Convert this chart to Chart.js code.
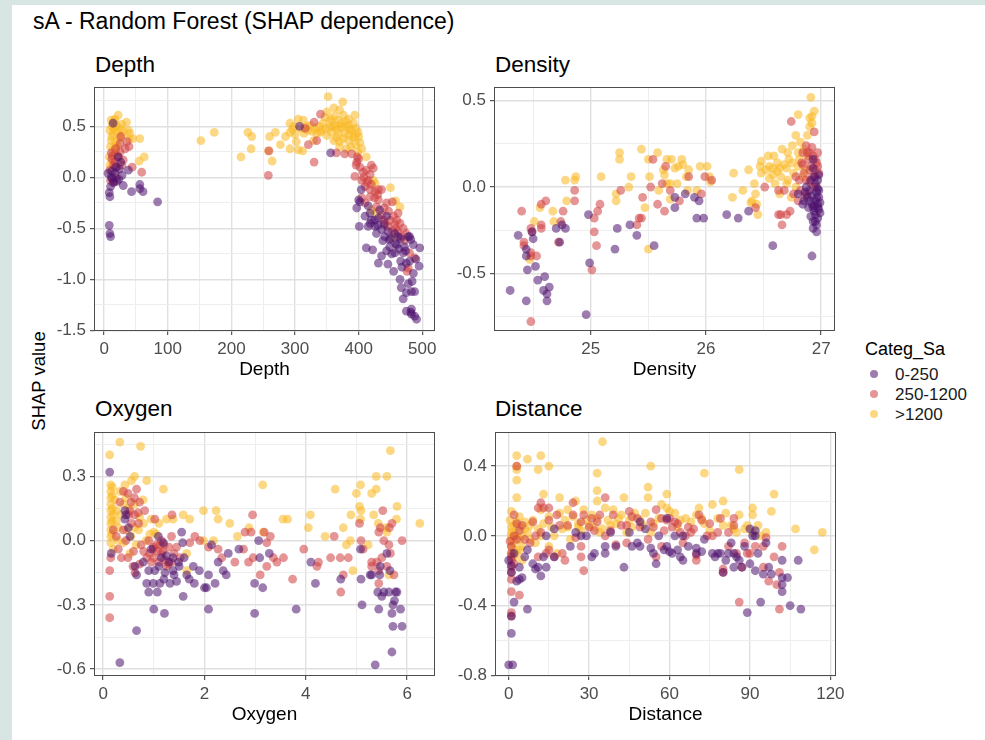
<!DOCTYPE html>
<html lang="en">
<head>
<meta charset="UTF-8">
<title>sA - Random Forest (SHAP dependence)</title>
<script src="https://cdn.jsdelivr.net/npm/chart.js@4"></script>
<style>
  body { margin: 0; background: #d7e6e2; font-family: "Liberation Sans", Arial, sans-serif; }
  #page { position: absolute; left: 12px; top: 5px; width: 973px; height: 735px; background: #fff; }
  .txt { position: absolute; white-space: nowrap; line-height: 1; color: #000; }
  canvas { position: absolute; }
  .key { position: absolute; width: 8px; height: 8px; border-radius: 50%; }
</style>
</head>
<body>
<div id="page"></div>
<div class="txt" style="left:33px; top:10px; font-size:23px;">sA - Random Forest (SHAP dependence)</div>
<div class="txt" style="left:95px; top:54px; font-size:22.5px;">Depth</div>
<div class="txt" style="left:495px; top:54px; font-size:22.5px;">Density</div>
<div class="txt" style="left:95px; top:398px; font-size:22.5px;">Oxygen</div>
<div class="txt" style="left:495px; top:398px; font-size:22.5px;">Distance</div>
<div class="txt" style="left:39px; top:381px; font-size:18.5px; transform: translate(-50%,-50%) rotate(-90deg);">SHAP value</div>
<div id="legend"></div>

<canvas id="c1" width="416" height="302" style="left:40px; top:81px;"></canvas>
<canvas id="c2" width="416" height="302" style="left:440px; top:81px;"></canvas>
<canvas id="c3" width="416" height="302" style="left:40px; top:426px;"></canvas>
<canvas id="c4" width="416" height="302" style="left:441px; top:426px;"></canvas>

<script>
// categories (Categ_Sa)
const categories = ['0-250', '250-1200', '>1200'];
const catColors = ['rgba(76,16,110,0.55)', 'rgba(208,62,64,0.55)', 'rgba(249,184,32,0.55)'];

// ---- Depth: [depth, SHAP]
const depthLow = [[14,0.53],[22,0.2],[26,0.15],[12,0.06],[17,0.04],[38,0.07],[23,-0.02],[30,-0.08],[10,-0.09],[8,-0.15],[9,-0.19],[56,-0.07],[56,-0.11],[61,-0.14],[43,-0.14],[84,-0.24],[8,-0.47],[9,-0.55],[10,-0.58],[13,-0.01],[6,0.04],
  [18,0.1],[24,0.08],[15,-0.05],[20,-0.04],[11,0.0],[28,0.02],
  [307,0.5],[356,0.24],
  [397,-0.3],[401,-0.48],[402,-0.24],[418,-0.35],[418,-0.45],[426,-0.48],[415,-0.48],[431,-0.4],[436,-0.51],[412,-0.69],[422,-0.71],[431,-0.84],[436,-0.77],[444,-0.72],[446,-0.85],[455,-0.92],[449,-0.68],[457,-0.74],[460,-0.66],[470,-0.74],[472,-0.68],[480,-0.58],[482,-0.61],[486,-0.66],[496,-0.69],[495,-0.87],[486,-0.94],[475,-0.84],[466,-0.82],[465,-1.0],[467,-1.08],[470,-1.19],[475,-1.13],[478,-1.04],[484,-1.02],[483,-1.12],[488,-1.12],[475,-1.31],[483,-1.29],[482,-1.32],[483,-1.34],[488,-1.36],[491,-1.39],[441,-0.58],[446,-0.53],[457,-0.55],[478,-0.58],[433,-0.32],[444,-0.38],[462,-0.58],[400,-0.22],[404,-0.12],[420,-0.42],[428,-0.55],[438,-0.62],[450,-0.6],[452,-0.75],[463,-0.7],
  [410,-0.38],[415,-0.28],[425,-0.42],[430,-0.47],[440,-0.46],[448,-0.61],[458,-0.65],[466,-0.6],[474,-0.72],[490,-0.8],[480,-0.82],[468,-0.88]];
const depthMid = [[25,0.33],[36,0.35],[39,0.30],[30,0.17],[25,0.25],[17,0.15],[9,0.07],[10,-0.03],[44,0.10],[59,0.05],[26,0.4],[22,0.2],[15,0.12],[13,0.21],
  [18,0.28],[20,0.1],[12,0.18],[28,0.12],[33,0.28],[14,-0.05],[18,0.0],[11,0.24],
  [259,0.26],[258,0.02],[316,0.48],[321,0.32],[330,0.54],[330,0.15],[334,0.36],[340,0.62],
  [365,0.24],[378,0.23],[389,0.23],[397,0.15],[402,0.1],[394,0.01],[412,0.07],[418,0.03],[405,-0.03],[410,-0.09],[418,-0.12],[426,-0.14],[431,-0.12],[436,-0.12],[418,-0.19],[405,-0.2],[410,-0.25],[431,-0.22],[444,-0.25],[453,-0.24],[462,-0.35],[449,-0.42],[457,-0.46],[465,-0.45],[446,-0.48],[462,-0.53],[467,-0.58],[480,-0.74],[488,-0.79],[478,-0.89],[476,-0.92],[436,-0.37],[428,-0.29],[423,0.09],[415,-0.03],[439,-0.42],[453,-0.53],[398,0.2],[400,0.18],[396,0.12],
  [408,0.0],[413,-0.05],[420,-0.07],[425,-0.2],[430,-0.17],[440,-0.3],[447,-0.33],[455,-0.38],[460,-0.42],[470,-0.5],[472,-0.62],[475,-0.55],[458,-0.5],[442,-0.45],[420,0.12],[407,0.05]];
const depthHigh = [[22,0.61],[11,0.56],[17,0.57],[9,0.46],[25,0.48],[35,0.54],[38,0.46],[40,0.43],[39,0.38],[45,0.38],[56,0.38],[55,0.16],[63,0.2],[11,0.36],[17,0.30],[8,0.2],[13,0.14],[19,0.51],[14,0.43],[27,0.41],[17,0.25],[10,0.3],[21,0.31],
  [12,0.5],[16,0.48],[20,0.45],[24,0.38],[18,0.35],[12,0.4],[14,0.27],[20,0.22],[9,0.12],[15,0.55],[28,0.52],[30,0.45],
  [152,0.36],[173,0.44],[215,0.2],[226,0.44],[232,0.4],[231,0.28],[260,0.4],[269,0.44],[258,0.26],[264,0.16],[277,0.32],[292,0.53],[292,0.44],[292,0.28],[302,0.35],[305,0.57],[313,0.56],[309,0.48],[314,0.43],[305,0.27],[312,0.26],[324,0.51],[327,0.45],[334,0.43],[342,0.46],[329,0.36],[347,0.59],
  [298,0.5],[296,0.47],[285,0.4],[300,0.42],[320,0.46],[318,0.5],[332,0.48],[338,0.5],
  [352,0.79],[375,0.74],[361,0.68],[350,0.64],[370,0.66],[394,0.61],[376,0.61],[357,0.57],[368,0.56],[384,0.57],[344,0.53],[355,0.49],[364,0.51],[373,0.49],[384,0.51],[392,0.53],[399,0.44],[389,0.46],[378,0.43],[368,0.43],[357,0.44],[350,0.41],[361,0.36],[370,0.35],[384,0.36],[394,0.40],[402,0.34],[405,0.28],[399,0.25],[412,0.2],[381,0.28],[370,0.30],
  [360,0.5],[366,0.47],[372,0.53],[378,0.5],[386,0.47],[380,0.55],[362,0.6],[355,0.55],[348,0.48],[340,0.44],[385,0.42],[391,0.39],[396,0.48],[376,0.38],[365,0.39],[388,0.3],[395,0.32],[400,0.4],
  [423,-0.03],[426,-0.06],[450,-0.1],[458,-0.23],[465,-0.29],[455,-0.59],[420,-0.32],[428,-0.35]];

// ---- Density: [density, SHAP]
const densityLow = [[26.92,-0.40],[26.96,-0.26],[26.93,-0.24],[26.96,-0.22],[26.97,-0.18],[26.95,-0.16],[26.98,-0.13],[26.97,-0.10],[26.98,-0.06],[26.96,-0.03],[26.90,-0.02],[26.87,0],[26.84,-0.10],[26.90,-0.08],[26.98,-0.02],[26.93,0.11],[26.93,0.16],[26.91,-0.17],[26.93,-0.20],[26.89,-0.12],[26.95,-0.08],[26.97,-0.12],[26.94,-0.14],[26.99,-0.09],[26.92,-0.05],[26.86,-0.03],[26.80,-0.04],[26.95,0.02],[26.97,0.04],[26.94,-0.11],
  [26.96,-0.06],[26.92,-0.10],[26.99,-0.15],[26.95,-0.20],[26.93,-0.12],[26.88,-0.06],[26.85,-0.08],[26.97,-0.01],[26.98,0.07],[26.91,0.04],[26.94,0.06],
  [26.58,-0.34],[26.37,-0.14],[26.28,-0.18],[26.18,-0.16],[25.98,-0.18],[25.92,-0.18],[25.94,-0.08],[25.90,-0.06],[25.82,-0.04],[25.73,-0.12],[25.73,-0.06],[25.55,-0.34],[25.40,-0.28],[25.34,-0.22],[25.23,-0.24],[25.21,-0.36],[24.99,-0.44],[24.98,-0.16],[24.96,-0.74],[24.78,-0.24],[24.75,-0.22],[24.70,-0.24],[24.73,-0.32],[24.64,-0.58],[24.62,-0.66],[24.62,-0.62],[24.59,-0.60],[24.60,-0.52],[24.54,-0.54],[24.52,-0.46],[24.45,-0.48],[24.44,-0.66],[24.44,-0.40],[24.44,-0.36],[24.50,-0.30],[24.49,-0.26],[24.37,-0.28],[24.30,-0.60]];
const densityMid = [[26.74,0.38],[26.94,0.32],[26.87,0.24],[26.92,0.23],[26.97,0.20],[26.84,0.20],[26.95,0.16],[26.89,0.16],[26.84,0.13],[26.97,0.12],[26.90,0.10],[26.85,0.08],[26.95,0.06],[26.81,0.04],[26.90,0.03],[26.96,0],[26.82,-0.02],[26.76,-0.04],[26.86,-0.05],[26.51,0],[26.63,-0.02],[26.43,-0.12],[26.63,-0.16],[26.65,-0.16],[26.66,-0.22],[26.70,-0.16],[26.73,-0.14],[26.68,-0.02],
  [26.88,0.20],[26.93,0.18],[26.98,0.08],[26.92,0.06],[26.87,0.04],[26.93,0.0],[26.88,-0.04],[26.95,0.10],[26.83,0.14],[26.91,0.12],[26.78,0.06],[26.80,-0.08],[26.90,0.20],[26.96,0.14],
  [25.99,0.06],[26.05,0.04],[25.96,-0.04],[25.85,0.06],[25.77,-0.08],[25.69,-0.02],[25.65,0.12],[25.62,0.02],[25.64,-0.14],[25.58,-0.10],[25.54,0.16],[25.52,0],[25.45,-0.06],[25.42,-0.18],[25.44,-0.18],[25.40,-0.22],[25.26,-0.02],[25.08,-0.10],[25.06,-0.14],[25.03,-0.18],[25.03,-0.26],[25.05,-0.34],[25.01,-0.48],[24.86,-0.02],[24.86,-0.08],[24.76,-0.14],[24.74,-0.2],[24.72,-0.32],[24.61,-0.08],[24.57,-0.10],[24.57,-0.22],[24.57,-0.24],[24.48,-0.24],[24.49,-0.26],[24.42,-0.32],[24.42,-0.34],[24.48,-0.38],[24.53,-0.40],[24.40,-0.14],[24.48,-0.78],[24.48,-0.40]];
const densityHigh = [[26.91,0.52],[26.80,0.42],[26.94,0.44],[26.92,0.41],[26.90,0.40],[26.92,0.37],[26.78,0.30],[26.82,0.26],[26.75,0.24],[26.66,0.22],[26.71,0.20],[26.54,0.18],[26.59,0.18],[26.48,0.15],[26.47,0.12],[26.48,0.08],[26.52,0.10],[26.58,0.11],[26.64,0.11],[26.70,0.11],[26.75,0.14],[26.81,0.16],[26.58,0.07],[26.65,0.06],[26.71,0.04],[26.76,0.08],[26.64,-0.04],[26.74,-0.06],[26.42,0.02],[26.43,-0.04],[26.40,-0.08],[26.44,-0.10],[26.45,-0.16],[26.39,-0.09],[26.37,0.10],[26.32,-0.02],[26.24,0.08],[26.23,-0.06],
  [26.85,0.22],[26.88,0.18],[26.80,0.12],[26.86,0.10],[26.72,0.16],[26.68,0.13],[26.62,0.09],[26.55,0.05],[26.60,0.02],[26.70,0.02],[26.78,0.0],[26.80,0.20],[26.88,0.30],[26.90,0.35],[26.84,0.06],[26.62,0.14],[26.55,0.12],
  [26.01,0.12],[25.95,0.12],[26.03,0.06],[26.04,0.03],[25.92,-0.02],[25.84,-0.02],[25.85,0.10],[25.83,0.06],[25.80,0.13],[25.79,0.16],[25.76,0.12],[25.73,0.11],[25.70,0.16],[25.66,0.16],[25.63,0.10],[25.64,0.07],[25.66,0.02],[25.69,0.02],[25.69,-0.07],[25.75,0.02],[25.58,0.20],[25.50,0.16],[25.51,0.06],[25.44,0.22],[25.47,-0.12],[25.50,-0.36],[25.59,-0.02],[25.35,0.06],[25.33,0],[25.25,0.20],[25.25,0.16],[25.22,-0.04],[25.22,-0.08],[25.09,0.06],[24.87,0.06],[24.86,0.04],[24.78,0.04],[24.79,-0.08],[24.67,-0.14],[24.68,-0.20],[24.56,-0.12],[24.51,-0.20],[24.47,-0.42]];

// ---- Oxygen: [oxygen, SHAP]
const oxygenLow = [[0.13,0.32],[0.33,-0.57],[0.66,-0.42],[0.16,-0.06],[0.43,0.14],[0.43,0.10],[0.53,0.02],[0.63,-0.12],[0.66,-0.16],[0.79,-0.10],[0.86,-0.20],[0.90,-0.24],[0.99,-0.20],[1.0,-0.32],[1.07,-0.24],[1.09,0.02],[1.12,-0.20],[1.02,-0.14],[1.19,-0.01],[1.21,-0.34],[1.22,-0.15],[1.25,-0.07],[1.32,-0.20],[1.38,-0.08],[1.38,-0.14],[1.45,-0.19],[1.49,-0.10],[1.55,0.04],[1.57,-0.01],[1.58,-0.26],[1.60,-0.08],[1.65,-0.16],[1.78,-0.12],[1.80,-0.20],[1.90,-0.14],[2.0,-0.22],[2.04,-0.22],[2.08,-0.16],[2.08,-0.32],[2.14,-0.02],[2.21,-0.20],[2.27,-0.10],[2.37,-0.14],[2.43,-0.16],[2.47,-0.06],[2.68,-0.04],[2.99,-0.20],[2.99,-0.34],[3.07,0],[3.09,-0.08],[3.15,-0.22],[3.28,-0.06],[3.81,-0.32],[4.10,-0.10],[4.19,-0.20],[4.69,-0.18],
  [0.50,0.06],[0.45,0.12],[0.90,-0.14],[1.10,-0.12],[1.20,-0.18],[1.40,-0.16],[1.50,-0.12],[1.70,-0.18],[0.95,-0.04],[1.15,-0.08],[1.30,-0.10],
  [5.08,-0.04],[5.09,-0.18],[5.11,-0.30],[5.27,-0.16],[5.30,-0.16],[5.37,-0.58],[5.42,-0.24],[5.46,-0.16],[5.47,-0.12],[5.44,-0.32],[5.50,-0.26],[5.54,-0.24],[5.64,-0.24],[5.66,-0.14],[5.60,-0.06],[5.70,-0.34],[5.72,-0.30],[5.75,-0.28],[5.72,-0.40],[5.70,-0.52],[5.77,-0.24],[5.80,-0.24],[5.87,-0.32],[5.90,-0.40]];
const oxygenMid = [[0.13,-0.26],[0.13,-0.36],[0.13,-0.14],[0.15,-0.08],[0.33,0.18],[0.40,0.23],[0.49,0.22],[0.66,0.24],[0.62,0.20],[0.72,0.18],[0.69,0.13],[0.82,0.14],[0.53,0.14],[0.56,0.08],[0.40,0.05],[0.36,-0.08],[0.49,-0.08],[0.63,-0.15],[0.59,-0.12],[0.72,-0.11],[0.92,-0.06],[0.99,-0.04],[1.02,0.10],[1.12,-0.02],[1.15,-0.06],[1.22,-0.09],[1.29,-0.11],[1.35,0.02],[1.36,0.12],[1.45,-0.03],[1.52,-0.08],[1.71,-0.01],[1.81,0.02],[1.91,0],[2.08,-0.03],[2.27,-0.04],[2.34,-0.08],[2.60,-0.10],[2.77,-0.04],[2.80,0.04],[2.92,0.04],[2.95,0.12],[2.87,-0.10],[2.96,-0.08],[3.10,-0.16],[3.18,0.04],[3.30,0.02],[3.23,-0.01],[3.23,-0.12],[3.36,-0.08],[3.43,-0.10],[3.56,-0.08],[3.74,-0.18],[3.96,-0.04],[4.22,-0.12],[4.25,-0.10],[4.49,-0.08],[4.56,0.02],[4.69,-0.24],[4.74,-0.16],[4.68,-0.08],[4.84,-0.08],
  [0.50,0.12],[0.55,0.18],[0.70,0.08],[0.75,-0.02],[0.80,-0.05],[0.90,0.0],[1.00,-0.08],[1.05,-0.02],[1.10,-0.10],[1.18,-0.05],[1.20,-0.02],[0.95,-0.10],[0.60,-0.05],[0.45,0.0],[0.30,-0.04],[0.20,0.05],[0.62,0.12],[1.40,-0.06],[1.30,-0.03],
  [5.06,0.08],[5.09,0],[5.13,-0.04],[5.30,-0.12],[5.30,-0.10],[5.40,-0.10],[5.44,-0.14],[5.44,-0.20],[5.52,0.14],[5.44,0.04],[5.47,0.06],[5.54,0],[5.64,-0.02],[5.67,-0.06],[5.70,0.08],[5.65,0.06],[5.60,-0.12],[5.74,-0.16],[5.90,0],[5.50,-0.08],[0.86,-0.08],[0.99,-0.03],[1.07,-0.05],[1.15,0],[1.25,-0.12],[1.35,-0.10],[0.26,0.02]];
const oxygenHigh = [[0.33,0.46],[0.13,0.40],[0.74,0.44],[5.67,0.42],[0.15,0.26],[0.15,0.23],[0.15,0.20],[0.15,0.17],[0.15,0.14],[0.15,0.11],[0.15,0.08],[0.15,0.05],[0.15,0.02],[0.15,-0.01],[0.23,0.19],[0.26,0.14],[0.33,0.23],[0.43,0.26],[0.62,0.30],[0.56,0.28],[0.86,0.28],[0.79,0.19],[0.72,0.11],[0.62,0.06],[0.46,0.05],[0.26,0.09],[0.40,-0.01],[0.92,0.03],[1.19,0.24],[1.25,0.10],[1.38,0.10],[1.58,0.12],[1.71,0.10],[1.98,0.14],[2.23,0.14],[2.27,0.10],[2.50,0.08],[2.18,0],[1.98,0],[2.65,0.02],[2.88,0.06],[3.15,0.26],[3.16,0.04],[3.55,0.10],[3.64,0.10],[4.05,0.06],[4.09,0.12],[4.38,0.02],[4.58,0.24],[4.74,0.06],[4.88,0],[4.80,-0.02],[4.89,0.12],[4.93,-0.14],
  [0.18,0.25],[0.18,0.21],[0.18,0.15],[0.18,0.09],[0.18,0.03],[0.20,0.12],[0.30,0.06],[0.35,0.12],[0.50,0.15],[0.45,0.20],[0.70,0.05],[0.80,0.08],[0.95,0.10],[0.30,0.0],[0.20,-0.04],[0.55,0.02],[0.85,0.0],[1.00,0.04],[1.10,0.08],[0.65,-0.02],[0.40,0.17],
  [5.0,0.22],[5.08,0.26],[5.06,0.16],[5.08,0.10],[5.09,0.14],[5.30,0.22],[5.39,0.24],[5.39,0.30],[5.34,0.12],[5.23,-0.02],[5.60,0.30],[5.43,0.08],[5.58,0.06],[5.60,0.04],[5.80,0.16],[5.79,0.10],[6.25,0.08],[5.64,-0.16],[1.65,-0.06],[1.65,-0.14],[0.53,-0.06],[0.62,0.17],[1.05,0.03]];

// ---- Distance: [distance, SHAP]
const distanceLow = [[0,-0.74],[1.5,-0.74],[1,-0.56],[1,-0.46],[2,-0.38],[7,-0.42],[1,-0.21],[4,-0.25],[5,-0.24],[3,-0.26],[7,-0.08],[6,-0.12],[4,-0.18],[10,-0.19],[11,-0.18],[12,-0.23],[13,-0.12],[14,-0.18],[14,0],[17,0.04],[17,-0.12],[23,-0.06],[27,0],[29,0],[31,-0.12],[32,-0.10],[36,-0.06],[36,-0.10],[40,-0.06],[43,-0.18],[45,0.02],[46,-0.06],[48,-0.04],[49,-0.06],[49,0.08],[51,0.04],[53,-0.07],[54,-0.10],[55,-0.16],[59,0.10],[59,-0.06],[60,-0.09],[61,-0.10],[63,-0.08],[62,0],[65,0],[65,-0.14],[67,-0.06],[70,-0.07],[70,-0.10],[73,-0.02],[76,-0.10],[78,-0.10],[79,-0.10],[80,-0.21],[81,-0.14],[83,-0.04],[84,-0.18],[84,-0.10],[85,-0.12],[87,-0.18],[89,-0.44],[90,0.04],[91,0],[92,0.03],[92,0],[90,-0.16],[92,-0.20],[93,-0.10],[94,-0.38],[95,-0.22],[96,-0.04],[97,-0.18],[98,-0.22],[102,-0.14],[102,-0.28],[102,-0.32],[104,-0.24],[105,-0.40],[108,-0.14],[109,-0.42],[102,-0.24],
  [0,-0.14],[1,-0.17],[2,-0.10],[9,-0.16],[25,0.02],[38,0.02],[56,0.0],[58,-0.08],[64,-0.12],[72,-0.09],[77,-0.12],[82,-0.10],[86,-0.14],[88,-0.06]];
const distanceMid = [[3,0.40],[0.5,-0.03],[1,-0.06],[1,-0.10],[1,-0.14],[1,-0.18],[1,-0.21],[1,-0.32],[1,-0.44],[1,-0.46],[4,-0.34],[2,0.12],[4,0.03],[2,0],[6,-0.02],[9,0.08],[11,0.16],[12,0.19],[13,0.16],[12,0.02],[15,0.09],[15,0.16],[11,-0.12],[14,-0.10],[15,-0.08],[17,-0.12],[18,0.12],[20,-0.10],[21,-0.14],[24,0.12],[24,0.19],[25,-0.01],[27,0.08],[27,-0.06],[27,-0.12],[28,-0.20],[28,0.12],[31,0.10],[32,0.03],[34,0.12],[36,0.22],[36,0],[39,0.12],[40,-0.05],[42,0.06],[44,-0.04],[45,0.14],[46,0.11],[49,0.05],[52,-0.02],[54,0.05],[55,0.15],[55,-0.12],[57,0.10],[59,0.09],[60,0.10],[61,0.05],[63,0.07],[64,0.02],[65,-0.04],[67,0.05],[68,0.02],[70,-0.11],[70,-0.14],[71,0.12],[72,0.09],[74,0],[76,0],[78,0.02],[79,0.10],[80,-0.19],[80,-0.21],[82,-0.06],[84,0.10],[84,0.06],[85,-0.10],[86,-0.38],[87,-0.18],[89,-0.10],[92,-0.06],[95,-0.18],[96,-0.01],[97,-0.26],[99,-0.12],[100,-0.28],[101,-0.42],[101,-0.21],[102,-0.06],[95,-0.06],[57,-0.06],
  [1,-0.12],[2,-0.16],[1,-0.25],[3,-0.02],[5,0.06],[3,0.07],[8,-0.04],[10,0.0],[19,0.06],[22,0.06],[30,0.05],[33,0.08],[38,0.03],[44,0.06],[48,0.10],[53,0.08],[58,0.03],[62,0.08],[66,0.0],[69,0.04],[75,0.07],[82,0.02],[88,-0.04],[90,-0.10]];
const distanceHigh = [[35,0.54],[3,0.46],[12,0.46],[7,0.44],[3,0.40],[3,0.38],[3,0.32],[15,0.40],[11,0.38],[53,0.40],[86,0.38],[73,0.36],[33,0.36],[52,0.28],[52,0.22],[33,0.26],[99,0.24],[13,0.24],[3,0.22],[19,0.22],[25,0.20],[43,0.22],[59,0.24],[80,0.20],[33,0.20],[76,0.18],[1,0.14],[91,0.16],[98,0.14],[91,0.12],[107,0.04],[117,0.02],[114,-0.08],
  [0.5,0.09],[1,0.05],[1,0.02],[1,-0.02],[1,-0.06],[1,-0.10],[2,-0.12],[4,-0.08],[4,-0.02],[2,0.02],[5,-0.06],[7,0.02],[10,-0.04],[12,0],[15,0.11],[17,0],[18,-0.10],[19,0.13],[21,0.09],[22,0.05],[23,-0.02],[24,0.11],[26,0.07],[27,0.03],[28,0.15],[29,0.09],[31,0.12],[32,0.05],[34,0.02],[36,0.16],[37,0.09],[39,0.15],[40,0.07],[42,0.12],[44,0.02],[45,0.09],[47,0.13],[49,0.09],[51,0.13],[53,0.02],[54,0.07],[57,0.18],[59,0.16],[62,0.13],[64,0.09],[66,0.10],[70,0.12],[71,0.16],[73,0.07],[75,0.03],[78,0.10],[81,0.13],[83,0.06],[85,0.02],[86,0.12],[88,0.04],[91,0.02],[93,0.06],[94,0],[96,0.02],[4,0.11],[6,0.08],[9,0.09],[8,-0.02],[5,-0.14],[12,0.15],[15,-0.06],[22,0.15],
  [1,0.0],[2,-0.04],[3,0.0],[2,0.06],[3,-0.10],[5,0.0],[6,0.04],[8,0.06],[3,0.08],[2,-0.08],[4,0.05],[11,0.04],[13,0.07],[16,0.05],[20,0.04],[26,0.05],[30,0.06],[33,0.10],[35,0.04],[38,0.06],[41,0.10],[46,0.05],[50,0.06],[56,0.10],[60,0.14],[63,0.05],[68,0.08],[72,0.10],[80,0.06],[84,0.04],[89,0.06]];

// ---- ticks (major with labels, minor = grid only)
const depthXTicks = [0, 100, 200, 300, 400, 500];
const depthXLabels = ['0', '100', '200', '300', '400', '500'];
const depthXMinor = [50, 150, 250, 350, 450];
const depthYTicks = [-1.5, -1.0, -0.5, 0.0, 0.5];
const depthYLabels = ['-1.5', '-1.0', '-0.5', '0.0', '0.5'];
const depthYMinor = [-1.25, -0.75, -0.25, 0.25, 0.75];

const densityXTicks = [25, 26, 27];
const densityXLabels = ['25', '26', '27'];
const densityXMinor = [24.5, 25.5, 26.5];
const densityYTicks = [-0.5, 0.0, 0.5];
const densityYLabels = ['-0.5', '0.0', '0.5'];
const densityYMinor = [-0.75, -0.25, 0.25];

const oxygenXTicks = [0, 2, 4, 6];
const oxygenXLabels = ['0', '2', '4', '6'];
const oxygenXMinor = [1, 3, 5];
const oxygenYTicks = [-0.6, -0.3, 0.0, 0.3];
const oxygenYLabels = ['-0.6', '-0.3', '0.0', '0.3'];
const oxygenYMinor = [-0.45, -0.15, 0.15, 0.45];

const distanceXTicks = [0, 30, 60, 90, 120];
const distanceXLabels = ['0', '30', '60', '90', '120'];
const distanceXMinor = [15, 45, 75, 105];
const distanceYTicks = [-0.8, -0.4, 0.0, 0.4];
const distanceYLabels = ['-0.8', '-0.4', '0.0', '0.4'];
const distanceYMinor = [-0.6, -0.2, 0.2];

Chart.defaults.font.family = '"Liberation Sans", Arial, sans-serif';

// ggplot-like full panel border
const panelBorder = {
  id: 'panelBorder',
  afterDraw(chart) {
    const { ctx, chartArea: a } = chart;
    ctx.save();
    ctx.strokeStyle = '#4d4d4d';
    ctx.lineWidth = 1;
    ctx.strokeRect(Math.round(a.left) + 0.5, Math.round(a.top) + 0.5,
      Math.round(a.right - a.left) - 1, Math.round(a.bottom - a.top) - 1);
    ctx.restore();
  }
};

function axis(major, labels, minor, min, max, title, isX) {
  const s = {
    type: 'linear',
    min: min,
    max: max,
    border: { display: false },
    afterBuildTicks: sc => {
      sc.ticks = major.map(v => ({ value: v, major: true }))
        .concat(minor.map(v => ({ value: v, major: false })))
        .sort((p, q) => p.value - q.value);
    },
    afterFit: sc => {
      // fixed axis sizes, no extra label overhang padding
      if (isX) { sc.height = 52; sc.paddingLeft = 0; sc.paddingRight = 0; }
      else { sc.width = 54; sc.paddingTop = 0; sc.paddingBottom = 0; }
    },
    grid: {
      color: c => (c.tick && c.tick.major) ? '#e0e0e0' : '#eeeeee',
      lineWidth: c => (c.tick && c.tick.major) ? 1.4 : 1,
      tickColor: c => (c.tick && c.tick.major) ? '#333333' : 'rgba(0,0,0,0)',
      tickLength: 4,
      tickWidth: 1
    },
    ticks: {
      autoSkip: false,
      maxRotation: 0,
      padding: 4,
      color: '#4d4d4d',
      font: { size: 17 },
      callback: (v, i, ticks) => ticks[i].major ? labels[major.indexOf(ticks[i].value)] : ''
    }
  };
  if (title) {
    s.title = { display: true, text: title, color: '#000', font: { size: 19 }, padding: { top: 0, bottom: 2 } };
  }
  return s;
}

function panel(id, sets, xs, ys, title) {
  new Chart(document.getElementById(id), {
    type: 'scatter',
    data: {
      datasets: sets.map((pts, k) => ({
        label: categories[k],
        data: pts.map(p => ({ x: p[0], y: p[1] })),
        backgroundColor: catColors[k],
        borderWidth: 0,
        pointRadius: 4.4,
        pointHoverRadius: 4.4
      }))
    },
    options: {
      responsive: false,
      animation: false,
      events: [],
      layout: { padding: { top: 6, right: 21, left: 0, bottom: 0 } },
      plugins: { legend: { display: false }, tooltip: { enabled: false } },
      scales: {
        x: axis(xs[0], xs[1], xs[2], xs[3], xs[4], title, true),
        y: axis(ys[0], ys[1], ys[2], ys[3], ys[4], null, false)
      }
    },
    plugins: [panelBorder]
  });
}

panel('c1', [depthLow, depthMid, depthHigh],
  [depthXTicks, depthXLabels, depthXMinor, -16, 520],
  [depthYTicks, depthYLabels, depthYMinor, -1.505, 0.885], 'Depth');
panel('c2', [densityLow, densityMid, densityHigh],
  [densityXTicks, densityXLabels, densityXMinor, 24.16, 27.12],
  [densityYTicks, densityYLabels, densityYMinor, -0.835, 0.58], 'Density');
panel('c3', [oxygenLow, oxygenMid, oxygenHigh],
  [oxygenXTicks, oxygenXLabels, oxygenXMinor, -0.18, 6.55],
  [oxygenYTicks, oxygenYLabels, oxygenYMinor, -0.632, 0.507], 'Oxygen');
panel('c4', [distanceLow, distanceMid, distanceHigh],
  [distanceXTicks, distanceXLabels, distanceXMinor, -5.1, 122.1],
  [distanceYTicks, distanceYLabels, distanceYMinor, -0.804, 0.596], 'Distance');

// legend
const lg = document.getElementById('legend');
lg.innerHTML = '<div class="txt" style="left:865px; top:340px; font-size:18px;">Categ_Sa</div>';
categories.forEach((c, k) => {
  const y = 374 + k * 20;
  lg.innerHTML += '<div class="key" style="left:870px; top:' + (y - 4) + 'px; background:' + catColors[k] + ';"></div>' +
    '<div class="txt" style="left:895px; top:' + (y - 8) + 'px; font-size:17px; color:#1a1a1a;">' + c.replace('>', '&gt;') + '</div>';
});
</script>
</body>
</html>
